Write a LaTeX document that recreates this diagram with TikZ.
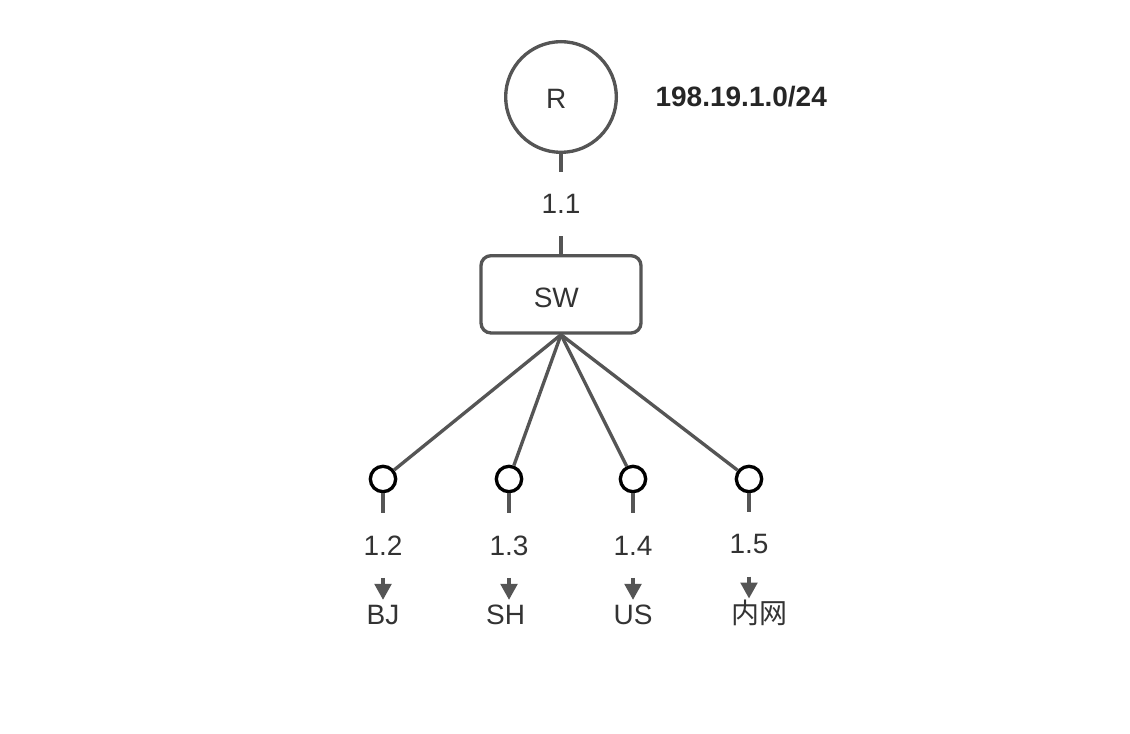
\documentclass[tikz,border=0pt]{standalone}
\usepackage{fontspec}
\setmainfont{Liberation Sans}
\newfontfamily\cjk{Noto Sans CJK SC}
\usetikzlibrary{positioning,arrows.meta}
\definecolor{wiregray}{HTML}{555555}
\definecolor{textgray}{HTML}{333333}
\tikzset{router/.style={circle, draw=wiregray, line width=2.5pt, minimum size=83pt, inner sep=0pt},
% the switch is a plain rounded box
switchbox/.style={draw=wiregray, line width=2.5pt, rounded corners=7.5pt, minimum width=120pt, minimum height=58pt},
port/.style={circle, draw=black, line width=2.5pt, minimum size=19pt, inner sep=0pt},
addr/.style={fill=white, minimum height=48pt, inner sep=0pt},
site/.style={inner xsep=2pt, inner ysep=3.5pt, text height=15pt, text depth=4pt},
wire/.style={draw=wiregray, line width=2.5pt},
line/.style={-{Triangle[length=12pt,width=12.5pt]}, draw=wiregray, line width=2.5pt}   % short arrow to each site
}
\begin{document}
\begin{tikzpicture}[x=0.75pt,y=-0.75pt,every node/.style={text=textgray, font=\fontsize{21}{25}\selectfont}]
    \useasboundingbox (0,0) rectangle (1130,734);
    \node[router] (R) at (561,97) {\raisebox{-1.5pt}[\height][\depth]{R}\kern7pt};
    \node[right=28pt of R, inner sep=0pt, text=black!85, font=\bfseries\fontsize{21}{25}\selectfont] (net) {198.19.1.0/24};
    \node[switchbox, below=75pt of R] (SW) {\raisebox{-2.5pt}[\height][\depth]{SW}\kern7pt};
    \draw[wire] (R) -- (SW) node[addr, midway] {1.1};
    \node[port] (h1) at (383,479) {};
    \node[port] (h2) at (509,479) {};
    \node[port] (h3) at (633,479) {};
    \node[port] (h4) at (749,479) {};
    \node[addr, below=15pt of h1] (a1) {1.2};
    \node[addr, below=15pt of h2] (a2) {1.3};
    \node[addr, below=15pt of h3] (a3) {1.4};
    \node[addr, below=14pt of h4] (a4) {1.5};
    \node[site, below=16.5pt of a1] (n1) {BJ};
    \node[site, below=16.5pt of a2, xshift=-2.5pt] (n2) {SH};
    \node[site, below=16.5pt of a3] (n3) {US};
    \node[site, below=16.5pt of a4, xshift=7.5pt] (n4) {\cjk 内网};
    \draw[wire] (SW.south) -- (h1);
    \draw[wire] (SW.south) -- (h2);
    \draw[wire] (SW.south) -- (h3);
    \draw[wire] (SW.south) -- (h4);
    \draw[wire] (h1) -- (a1);
    \draw[wire] (h2) -- (a2);
    \draw[wire] (h3) -- (a3);
    \draw[wire] (h4) -- (a4);
    \draw[line] (a1) -- (n1);
    \draw[line] (a2.south) -- (a2.south |- n2.north);
    \draw[line] (a3) -- (n3);
    \draw[line] (a4.south) -- (a4.south |- n4.north);
  \end{tikzpicture}
\end{document}
